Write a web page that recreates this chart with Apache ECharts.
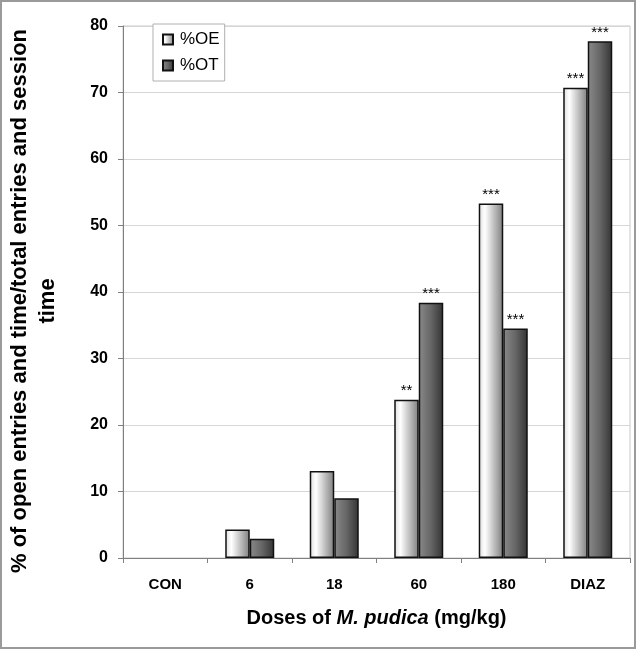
<!DOCTYPE html>
<html>
<head>
<meta charset="utf-8">
<script src="https://cdn.jsdelivr.net/npm/echarts@6/dist/echarts.min.js"></script>
<style>
html,body{margin:0;padding:0;background:#fff;}
#wrap{position:relative;width:636px;height:649px;}
#c{width:636px;height:649px;}
#frame{position:absolute;left:0;top:0;width:636px;height:649px;box-sizing:border-box;border:2px solid #9a9a9a;pointer-events:none;}
</style>
</head>
<body>
<div id="wrap"><div id="c"></div><div id="frame"></div></div>
<script>
const categories = ['CON', '6', '18', '60', '180', 'DIAZ'];
const seriesNames = ['%OE', '%OT'];
const valuesOE = [0, 4.3, 13.1, 23.8, 53.3, 70.7];
const valuesOT = [0, 2.9, 9.0, 38.4, 34.5, 77.7];
const marksOE = ['', '', '', '**', '***', '***'];
const marksOT = ['', '', '', '***', '***', '***'];
const yTicks = [0, 10, 20, 30, 40, 50, 60, 70, 80];

const chart = echarts.init(document.getElementById('c'), null, {renderer: 'canvas'});
const gradOE = new echarts.graphic.LinearGradient(0, 0, 1, 0, [
  {offset: 0, color: '#dcdcdc'},
  {offset: 0.25, color: '#ffffff'},
  {offset: 1, color: '#7e7e7e'}
]);
const gradOT = new echarts.graphic.LinearGradient(0, 0, 1, 0, [
  {offset: 0, color: '#8a8a8a'},
  {offset: 0.5, color: '#666666'},
  {offset: 1, color: '#333333'}
]);
const font = 'Arial, "Liberation Sans", sans-serif';
function mk(marks) {
  return function (p) { return marks[p.dataIndex]; };
}
function toData(vals) {
  return vals.map(function (v) {
    return v === 0 ? {value: v, itemStyle: {borderWidth: 0}} : v;
  });
}
chart.setOption({
  animation: false,
  textStyle: {fontFamily: font},
  grid: {left: 123, right: 6, top: 26, bottom: 91, show: true, borderColor: '#c8c8c8', borderWidth: 1,
    containLabel: false, outerBoundsMode: 'none'},
  legend: {
    orient: 'vertical', left: 153, top: 24,
    data: seriesNames,
    icon: 'rect',
    itemWidth: 10, itemHeight: 10, itemGap: 9,
    padding: [7, 5, 7, 9],
    borderColor: '#b0b0b0', borderWidth: 1, backgroundColor: '#fff',
    textStyle: {fontSize: 17, color: '#000', fontFamily: font, padding: [0, 0, 0, 2]}
  },
  xAxis: {
    type: 'category',
    data: categories,
    axisLine: {lineStyle: {color: '#808080', width: 1}},
    axisTick: {show: true, alignWithLabel: false, length: 5, inside: false, lineStyle: {color: '#808080'}},
    axisLabel: {fontSize: 15, fontWeight: 'bold', color: '#000', margin: 19, fontFamily: font},
    name: '{n|Doses of }{i|M. pudica}{n| (mg/kg)}',
    nameLocation: 'middle',
    nameGap: 50,
    nameTextStyle: {
      rich: {
        n: {fontSize: 20, fontWeight: 'bold', color: '#000', fontFamily: font},
        i: {fontSize: 20, fontWeight: 'bold', fontStyle: 'italic', color: '#000', fontFamily: font}
      }
    }
  },
  yAxis: {
    type: 'value', min: 0, max: 80, interval: 10,
    axisLine: {show: true, lineStyle: {color: '#808080', width: 1}},
    axisTick: {show: true, length: 5, lineStyle: {color: '#808080'}},
    axisLabel: {fontSize: 16, fontWeight: 'bold', color: '#000', margin: 15, fontFamily: font,
      formatter: function (v) { return yTicks.indexOf(v) >= 0 ? String(v) : ''; }},
    splitLine: {lineStyle: {color: '#d6d6d6', width: 1}},
    name: '% of open entries and time/total entries and session\ntime',
    nameLocation: 'middle',
    nameRotate: 90,
    nameGap: 61,
    nameTextStyle: {fontSize: 22, fontWeight: 'bold', color: '#000', lineHeight: 28, align: 'center', fontFamily: font,
      padding: [0, 18, 0, 0]}
  },
  series: [
    {
      name: seriesNames[0], type: 'bar', data: toData(valuesOE),
      barGap: '0%', barCategoryGap: '42%',
      itemStyle: {color: gradOE, borderColor: '#111', borderWidth: 1.5},
      label: {show: true, position: 'top', distance: 1, formatter: mk(marksOE), fontSize: 15, color: '#000', fontFamily: font}
    },
    {
      name: seriesNames[1], type: 'bar', data: toData(valuesOT),
      barGap: '0%', barCategoryGap: '42%',
      itemStyle: {color: gradOT, borderColor: '#111', borderWidth: 1.5},
      label: {show: true, position: 'top', distance: 1, formatter: mk(marksOT), fontSize: 15, color: '#000', fontFamily: font}
    }
  ]
});
</script>
</body>
</html>
